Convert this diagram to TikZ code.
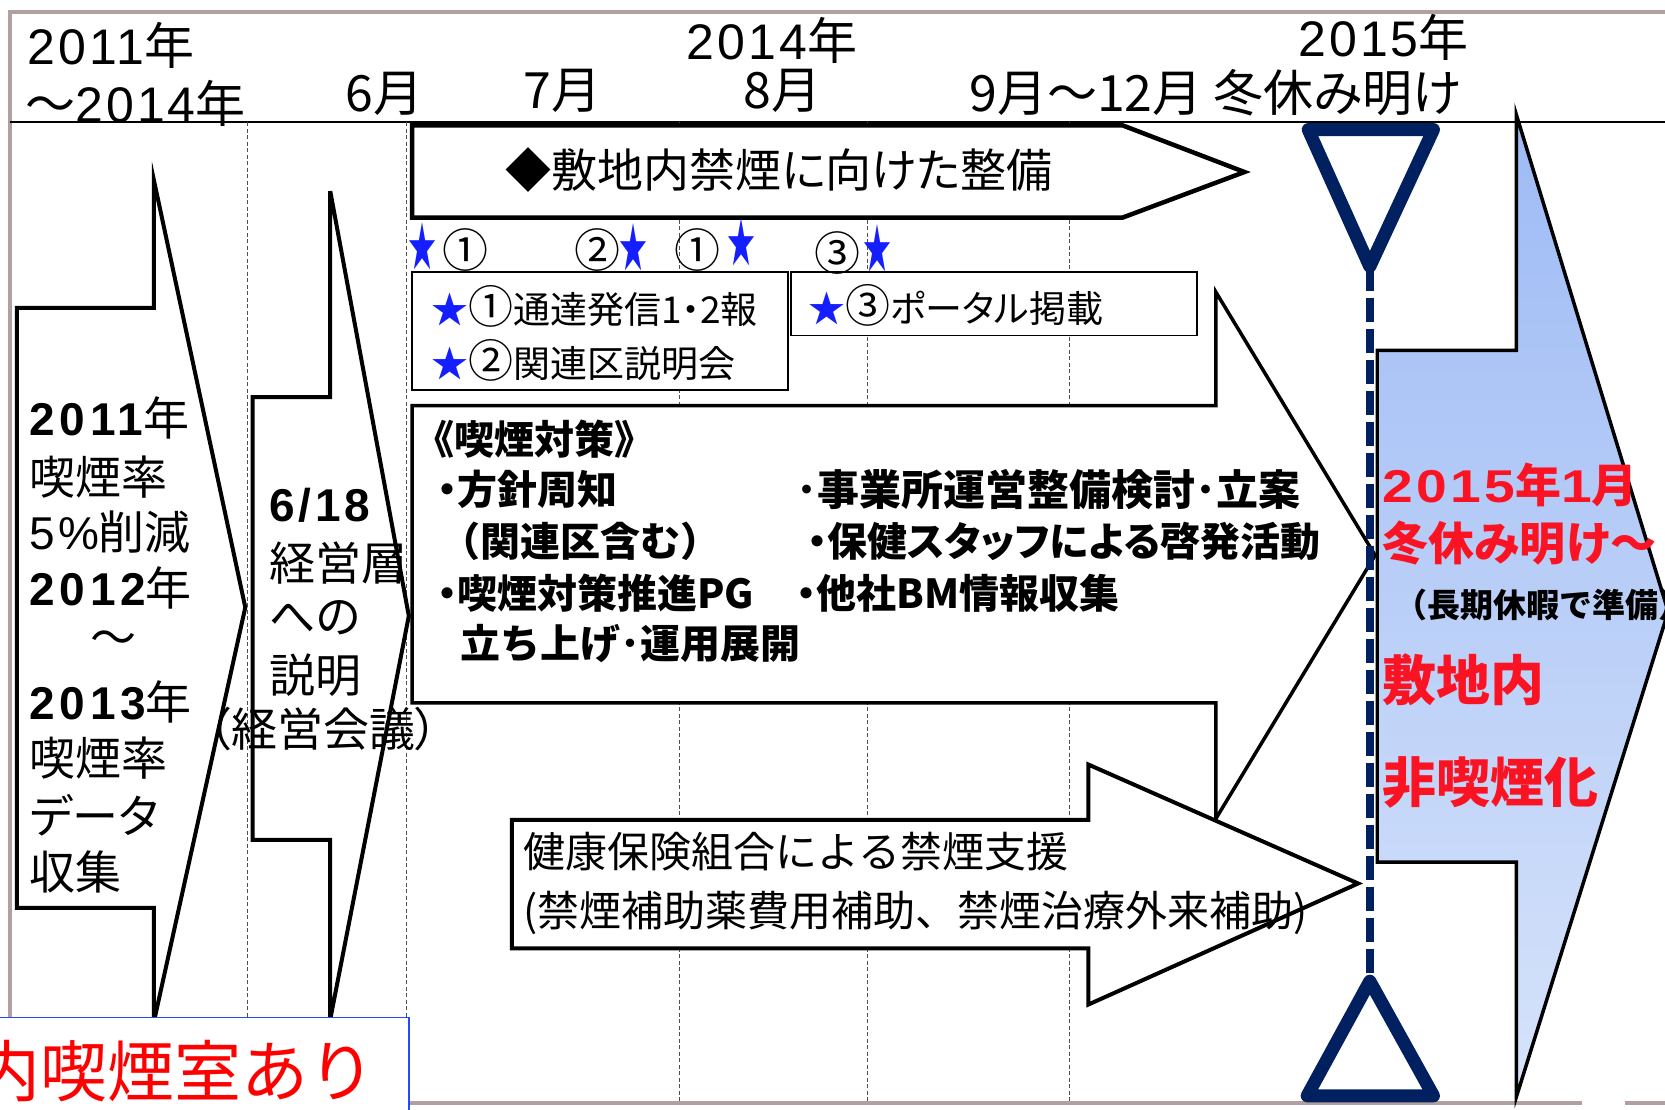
\documentclass[tikz,border=0pt]{standalone}
\usepackage{graphicx}
\usepackage{fontspec}
\setmainfont{Noto Sans CJK JP}[RawFeature=+palt]
\newfontfamily\nopalt{Noto Sans CJK JP}
\newfontfamily\lat{Liberation Sans}
\newcommand{\fsz}[1]{\fontsize{#1}{#1}\selectfont}
\newcommand{\dg}[2]{{\lat\addfontfeature{LetterSpace=#1}#2}}
\newcommand{\wdg}[1]{\scalebox{1.2}[1]{\dg{6}{#1}}}
\newcommand{\tallstar}{\scalebox{1}[1.9]{★}}
\newcommand{\bigc}[1]{{\fsz{45}#1}}
\definecolor{framec}{RGB}{178,160,160}
\definecolor{navy}{RGB}{0,32,96}
\definecolor{starblue}{RGB}{20,30,255}
\definecolor{redt}{RGB}{250,20,35}
\definecolor{pured}{RGB}{255,0,0}
\definecolor{lbtop}{RGB}{158,187,245}
\definecolor{lbbot}{RGB}{214,227,250}
\definecolor{gridc}{RGB}{80,80,80}
\definecolor{boxblue}{RGB}{40,70,255}
\begin{document}
\begin{tikzpicture}[x=1.0619pt,y=-1.0619pt,
  blk/.style={draw=black,fill=white,line width=#1,line join=miter},
  blk/.default=4pt,
  thinbox/.style={draw=black,fill=white,line width=1.6pt},
  grid line/.style={draw=gridc,line width=0.9pt,dash pattern=on 4pt off 2.5pt},
  lt/.style={inner sep=0pt,outer sep=0pt,anchor=west},
  ct/.style={inner sep=0pt,outer sep=0pt,anchor=center},
  hdr/.style={font=\fsz{50}},
  boxtxt/.style={lt,font=\fsz{37}},
  midt/.style={lt,font=\fsz{40}\bfseries},
  midw/.style={lt,font={\nopalt\fsz{40}\bfseries}},
  lft/.style={lt,font=\fsz{46}},
  hlth/.style={lt,font={\nopalt\fsz{42}}},
  rtred/.style={lt,font=\fsz{46}\bfseries,text=redt},
  rtbig/.style={lt,font=\fsz{54}\bfseries,text=redt},
  starmark/.style={ct,font=\fsz{28},text=starblue},
  circnum/.style={ct,font=\fsz{46}},
  navytri/.style={draw=navy,line width=13pt,line join=round,fill=white}
]
\useasboundingbox (0,0) rectangle (1568,1045.3);
\clip (0,0) rectangle (1568,1045.3);
\fill[white] (0,0) rectangle (1568,1045.3);

% frame
\draw[framec,line width=4pt] (9,1045) -- (9,11) -- (1568,11);
\draw[framec,line width=4pt] (385,1039) -- (1490,1039);
\draw[framec,line width=4pt] (1530,1039) -- (1568,1039);
% header rule
\draw[line width=2pt] (9,115) -- (1568,115);
% month grid
\foreach \gx in {233,383,640,817,1007} \draw[grid line] (\gx,115) -- (\gx,1039);

% block arrows
\draw[blk] (16,290) -- (145,290) -- (145,170) -- (231,572) -- (145,962) -- (145,855) -- (16,855) -- cycle;
\draw[blk] (238,374) -- (311,374) -- (311,180) -- (385,580) -- (311,960) -- (311,791) -- (238,791) -- cycle;
\draw[blk=4.5pt] (388,118) -- (1057,118) -- (1172,162) -- (1057,205) -- (388,205) -- cycle;
\draw[thinbox] (388,256) rectangle (742,367);
\draw[thinbox] (745,256) rectangle (1127,316);
\draw[blk=3.5pt] (388,382) -- (1145,382) -- (1145,275) -- (1295,523) -- (1145,771) -- (1145,662) -- (388,662) -- cycle;
\draw[blk] (482,772) -- (1025,772) -- (1025,720) -- (1279,832) -- (1025,946) -- (1025,893) -- (482,893) -- cycle;
\draw[blk=3.5pt,top color=lbtop,bottom color=lbbot] (1297,330) -- (1428,330) -- (1428,108) -- (1571,576) -- (1428,1033) -- (1428,812) -- (1297,812) -- cycle;

% navy milestone
\coordinate (utip) at (1290,251);
\coordinate (ltip) at (1290,924);
\draw[navy,line width=8pt,dash pattern=on 24pt off 7pt] (utip) -- (ltip);
\draw[navytri] (1232,122) -- (1350,122) -- (utip) -- cycle;
\draw[navytri] (ltip) -- (1350,1032) -- (1231,1032) -- cycle;

% header texts
\node[lt,hdr] (h2011) at (26,43) {\dg{6}{2011}年};
\node[lt,hdr] (h2014a) at (24,97) {～\dg{6}{2014}年};
\node[ct,hdr] (hjun) at (362,88) {6月};
\node[ct,hdr] (hjul) at (530,86) {7月};
\node[ct,hdr] (h2014) at (727,38) {\dg{6}{2014}年};
\node[ct,hdr] (haug) at (737,86) {8月};
\node[lt,hdr] (hsep) at (913,87) {9月～12月 冬休み明け};
\node[ct,hdr] (h2015) at (1303,35) {\dg{6}{2015}年};

% top arrow text
\node[lt,font=\fsz{46}] (ttop) at (476,160) {◆敷地内禁煙に向けた整備};

% stars and numbers
\node[starmark] (s1) at (398,232) {\tallstar};
\node[starmark] (s2) at (597,233) {\tallstar};
\node[starmark] (s3) at (698,228) {\tallstar};
\node[starmark] (s4) at (826,234) {\tallstar};
\node[circnum] (n1) at (438,235) {①};
\node[circnum] (n2) at (563,235) {②};
\node[circnum] (n3) at (657,235) {①};
\node[circnum] (n4) at (789,238) {③};

% boxes text
\node[boxtxt] (b1a) at (406,289) {\textcolor{starblue}{★}\bigc{①}通達発信1・2報};
\node[boxtxt] (b1b) at (406,339) {\textcolor{starblue}{★}\bigc{②}関連区説明会};
\node[boxtxt] (b2) at (761,288) {\textcolor{starblue}{★}\bigc{③}ポータル掲載};

% middle arrow text
\node[midw] (m0) at (390,414) {《喫煙対策》};
\node[midt] (m1) at (412,461) {・方針周知};
\node[midw] (m2) at (415,510) {（関連区含む）};
\node[midt] (m3) at (412,559) {・喫煙対策推進PG};
\node[midw] (m4) at (434,606) {立ち上げ･運用展開};
\node[lt,font={\nopalt\fsz{42}\bfseries}] (m5) at (750,461) {･事業所運営整備検討･立案};
\node[midt] (m6) at (760,510) {・保健スタッフによる啓発活動};
\node[midt] (m7) at (750,559) {・他社BM情報収集};

% left arrow text
\node[lft] (l1) at (28,394) {{\bfseries\dg{10}{2011}}年};
\node[lft] (l2) at (28,449) {喫煙率};
\node[lft] (l3) at (28,501) {\dg{6}{5\%}削減};
\node[lft] (l4) at (28,554) {{\bfseries\dg{10}{2012}}年};
\node[ct,font=\fsz{46}] (l5) at (107,605) {～};
\node[lft] (l6) at (28,661) {{\bfseries\dg{10}{2013}}年};
\node[lft] (l7) at (28,714) {喫煙率};
\node[lft] (l8) at (28,768) {データ};
\node[lft] (l9) at (28,821) {収集};

% second arrow text
\node[lft] (k1) at (254,476) {{\bfseries\dg{8}{6/18}}};
\node[lft] (k2) at (254,530) {経営層};
\node[lft] (k3) at (254,582) {への};
\node[lft] (k4) at (254,636) {説明};
\node[lft] (k5) at (196,687) {（経営会議）};

% health insurance arrow text
\node[hlth] (p1) at (493,802) {健康保険組合による禁煙支援};
\node[hlth] (p2) at (493,860) {(禁煙補助薬費用補助、禁煙治療外来補助)};

% right arrow text
\node[rtred] (r1) at (1302,457) {\wdg{2015}年\wdg{1}月};
\node[rtred] (r2) at (1302,511) {冬休み明け～};
\node[lt,font={\nopalt\fsz{33}\bfseries}] (r3) at (1313,570) {（長期休暇で準備）};
\node[rtbig] (r4) at (1302,640) {敷地内};
\node[rtbig] (r5) at (1302,737) {非喫煙化};

% bottom-left red box
\draw[boxblue,line width=1.5pt,fill=white] (-5,958) rectangle (385,1060);
\node[lt,font={\nopalt\fsz{67}},text=pured] (redtxt) at (-25,1009) {内喫煙室あり};
\end{tikzpicture}
\end{document}
